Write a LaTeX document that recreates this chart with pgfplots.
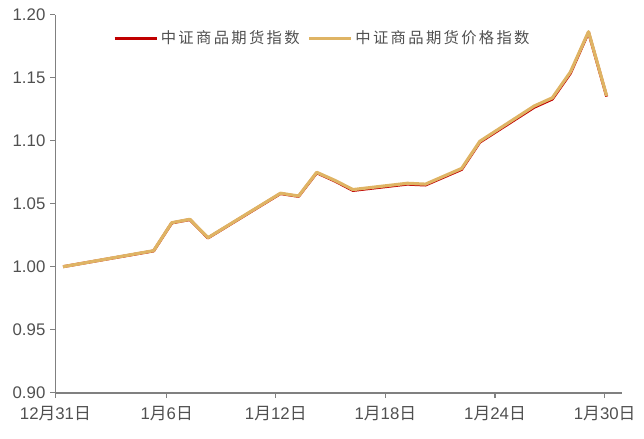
\documentclass[border=0pt]{standalone}
\usepackage{pgfplots}
\pgfplotsset{compat=1.18}
\usepackage{fontspec}
\setmainfont{Liberation Sans}
\newfontfamily\cjk{Noto Sans CJK SC}
\newfontfamily\cjkleg{Noto Sans CJK SC}[LetterSpace=15]
\definecolor{redline}{HTML}{C00000}
\definecolor{goldline}{HTML}{DFB464}
\definecolor{axisgray}{HTML}{808080}
\definecolor{labgray}{HTML}{505050}
\begin{document}
\begin{tikzpicture}
\path[use as bounding box] (-41.55pt,-33.98pt) rectangle (441.45pt,294.53pt);
\begin{axis}[
  scale only axis,
  width=425pt, height=283.5pt,
  at={(0pt,0pt)}, anchor=south west,
  xmin=-0.42, xmax=30.85,
  ymin=0.90, ymax=1.20,
  axis x line=bottom, axis y line=left,
  axis line style={axisgray, line width=1.3pt, -},
  tick style={axisgray, line width=1.1pt},
  tick align=outside,
  major tick length=4pt,
  xtick={-0.42,5.72,11.74,17.79,23.84,29.89},
  xticklabels={12{\cjk 月}31{\cjk 日},1{\cjk 月}6{\cjk 日},1{\cjk 月}12{\cjk 日},1{\cjk 月}18{\cjk 日},1{\cjk 月}24{\cjk 日},1{\cjk 月}30{\cjk 日}},
  ytick={0.90,0.95,1.00,1.05,1.10,1.15,1.20},
  y tick label style={/pgf/number format/fixed, /pgf/number format/fixed zerofill, /pgf/number format/precision=2},
  /pgf/number format/assume math mode=true,
  ticklabel style={font=\fontsize{12.6}{14}\selectfont, text=labgray},
  xticklabel style={yshift=-2.5pt},
  legend columns=2,
  legend style={draw=none, fill=none, at={(43.2pt,265.8pt)}, anchor=west,
    font=\cjkleg\fontsize{11.5}{13}\selectfont, text=labgray,
    /tikz/every even column/.append style={column sep=4pt},
    inner sep=0pt},
  legend cell align=left,
  legend image code/.code={\draw[#1] (0pt,0pt) -- (31.5pt,0pt);},
]
\addplot[redline, line width=2.2pt, line join=round] coordinates {
(0,1.000) (5,1.0125) (6,1.0347) (7,1.0374) (8,1.0228) (12,1.0580) (13,1.0558)
(14,1.0745) (15,1.0680) (16,1.0605) (19,1.0655) (20,1.0648) (22,1.0772)
(23,1.0988) (26,1.1265) (27,1.1330) (28,1.1535) (29,1.1860) (30,1.1350)};
\addlegendentry{中证商品期货指数}
\addplot[goldline, line width=2.4pt, line join=round] coordinates {
(0,1.000) (5,1.0127) (6,1.0349) (7,1.0376) (8,1.0230) (12,1.0583) (13,1.0561)
(14,1.0749) (15,1.0685) (16,1.0612) (19,1.0662) (20,1.0655) (22,1.0780)
(23,1.0995) (26,1.1275) (27,1.1340) (28,1.1545) (29,1.1865) (30,1.1355)};
\addlegendentry{中证商品期货价格指数}
\end{axis}
\end{tikzpicture}
\end{document}
